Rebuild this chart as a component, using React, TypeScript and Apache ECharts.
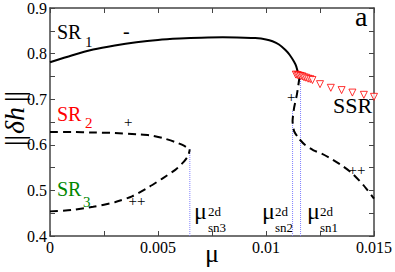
import React, { useEffect, useRef } from "react";
import * as echarts from "echarts";

// ---- data ----
const xRange = [0, 0.015];
const yRange = [0.4, 0.9];
const xInterval = 0.005;
const yInterval = 0.1;

// SR1 stable branch (solid)
const sr1: number[][] = [
  [0, 0.781], [0.001, 0.796], [0.002, 0.809], [0.003, 0.818], [0.004, 0.825],
  [0.005, 0.83], [0.006, 0.833], [0.007, 0.835], [0.008, 0.836], [0.009, 0.835],
  [0.0095, 0.834], [0.01, 0.831], [0.0103, 0.827], [0.0106, 0.82], [0.0109, 0.808],
  [0.0111, 0.797], [0.0113, 0.782], [0.0114, 0.772], [0.01152, 0.75],
];
// SR2 (upper dashed branch)
const sr2: number[][] = [
  [0, 0.628], [0.001, 0.628], [0.002, 0.627], [0.003, 0.626], [0.004, 0.623],
  [0.0046, 0.621], [0.0052, 0.615], [0.0058, 0.606], [0.0062, 0.598], [0.00647, 0.59],
];
// SR3 (lower dashed branch)
const sr3: number[][] = [
  [0, 0.454], [0.001, 0.457], [0.002, 0.464], [0.003, 0.474], [0.0038, 0.487],
  [0.0046, 0.508], [0.0052, 0.526], [0.0058, 0.545], [0.0062, 0.563], [0.0064, 0.576],
  [0.00647, 0.59],
];
// unstable branch near the sn1/sn2 fold (dashed)
const foldBranch: number[][] = [
  [0.01155, 0.748], [0.01143, 0.71], [0.0113, 0.681], [0.01123, 0.652], [0.0113, 0.63],
  [0.0115, 0.615], [0.0118, 0.6], [0.0122, 0.588], [0.0126, 0.58], [0.013, 0.57],
  [0.0135, 0.555], [0.014, 0.537], [0.0145, 0.512], [0.015, 0.482],
];
// SSR points (red hollow triangles)
const ssr: number[][] = [
  [0.01138, 0.754], [0.01145, 0.753], [0.01152, 0.752], [0.0116, 0.751], [0.01168, 0.75],
  [0.01176, 0.748], [0.01185, 0.747], [0.01195, 0.745], [0.01205, 0.744], [0.01215, 0.742],
  [0.0125, 0.733], [0.013, 0.725], [0.0135, 0.72], [0.014, 0.7145], [0.01453, 0.7096],
  [0.015, 0.7052],
];
// saddle-node markers (x, top y)
const snLines: number[][] = [
  [0.006474, 0.592],
  [0.01123, 0.674],
  [0.0116, 0.746],
];

const SERIF = "Liberation Serif";
const AXIS_COLOR = "#444";

function font(size: number, italic = false) {
  return (italic ? "italic " : "") + size + "px \"Liberation Serif\", \"Times New Roman\", serif";
}

// text placed by its left edge and the vertical middle of its line box
function txt(text: string, x: number, yMid: number, size: number, color = "#000") {
  return {
    type: "text", x, y: yMid - size / 2,
    style: { text, font: font(size), fill: color },
  };
}

export default function App() {
  const ref = useRef<HTMLDivElement>(null);
  useEffect(() => {
    if (!ref.current) return;
    const chart = echarts.init(ref.current, null, { renderer: "svg" });

    const common = {
      axisLine: { show: true, onZero: false, lineStyle: { color: AXIS_COLOR, width: 1.5 } },
      axisTick: { show: true, inside: true, length: 5, lineStyle: { color: AXIS_COLOR, width: 1 } },
      minorTick: { show: true, splitNumber: 2, length: 5, lineStyle: { color: AXIS_COLOR, width: 1 } },
      splitLine: { show: false },
    };
    const lbl = (labels: boolean) =>
      labels
        ? { show: true, fontFamily: SERIF, fontSize: 16, color: "#000", margin: 3, showMinLabel: true, showMaxLabel: true }
        : { show: false };
    const baseX = (pos: string, labels: boolean) => ({
      type: "value", position: pos, min: xRange[0], max: xRange[1], interval: xInterval,
      ...common, axisLabel: lbl(labels),
    });
    const baseY = (pos: string, labels: boolean) => ({
      type: "value", position: pos, min: yRange[0], max: yRange[1], interval: yInterval,
      ...common, axisLabel: lbl(labels),
    });

    const dashed = { color: "#000", width: 2, type: [8, 5] as any };

    const option: any = {
      animation: false,
      textStyle: { fontFamily: SERIF },
      grid: { left: 50, top: 6, width: 326, height: 230 },
      xAxis: [baseX("bottom", true), baseX("top", false)],
      yAxis: [baseY("left", true), baseY("right", false)],
      series: [
        ...snLines.map((s, i) => ({
          type: "line", name: "sn" + i, data: [[s[0], yRange[0]], [s[0], s[1]]],
          symbol: "none", lineStyle: { color: "#8080ff", width: 1, type: "dotted" }, z: 1,
        })),
        { type: "line", name: "SR1", data: sr1, symbol: "none", smooth: 0.2, lineStyle: { color: "#000", width: 2 }, z: 3 },
        { type: "line", name: "SR2", data: sr2, symbol: "none", smooth: 0.2, lineStyle: dashed, z: 3 },
        { type: "line", name: "SR3", data: sr3, symbol: "none", smooth: 0.2, lineStyle: dashed, z: 3 },
        { type: "line", name: "fold", data: foldBranch, symbol: "none", smooth: 0.2, lineStyle: dashed, z: 3 },
        {
          type: "scatter", name: "SSR", data: ssr, symbol: "triangle", symbolRotate: 180, symbolSize: 7,
          itemStyle: { color: "#fff", borderColor: "#ff0000", borderWidth: 1 }, z: 5,
        },
      ],
      graphic: [
        {
          type: "group", x: 14, y: 117, rotation: Math.PI / 2,
          children: [
            { type: "text", x: -29, y: -14, style: { text: "||", font: font(28), fill: "#000" } },
            { type: "text", x: -17, y: -14, style: { text: "δh", font: font(28, true), fill: "#000" } },
            { type: "text", x: 15, y: -14, style: { text: "||", font: font(28), fill: "#000" } },
          ],
        },
        txt("μ", 205, 253, 26),
        txt("a", 355, 16.5, 28),
        txt("SR", 57, 31.5, 20),
        txt("1", 85, 41.5, 15),
        txt("-", 123, 31, 20),
        txt("SR", 57, 113.5, 20, "#ff0000"),
        txt("2", 85, 122.5, 15, "#ff0000"),
        txt("+", 124, 121.5, 15),
        txt("SR", 57, 189, 20, "#008800"),
        txt("3", 83, 202, 15, "#008800"),
        txt("++", 128.5, 201, 15),
        txt("+", 287, 97, 15),
        txt("SSR", 333, 105.5, 22),
        txt("++", 348.5, 170, 15),
        txt("μ", 194, 211, 24),
        txt("2d", 208, 211, 13),
        txt("sn3", 208, 227.5, 13),
        txt("μ", 262, 211, 24),
        txt("2d", 275, 211, 13),
        txt("sn2", 275, 227.5, 13),
        txt("μ", 307, 211, 24),
        txt("2d", 320, 211, 13),
        txt("sn1", 320, 227.5, 13),
      ],
    };
    chart.setOption(option);
    return () => chart.dispose();
  }, []);
  return <div ref={ref} style={{ position: "fixed", left: 0, top: 0, width: 395, height: 272, background: "#fff" }} />;
}
